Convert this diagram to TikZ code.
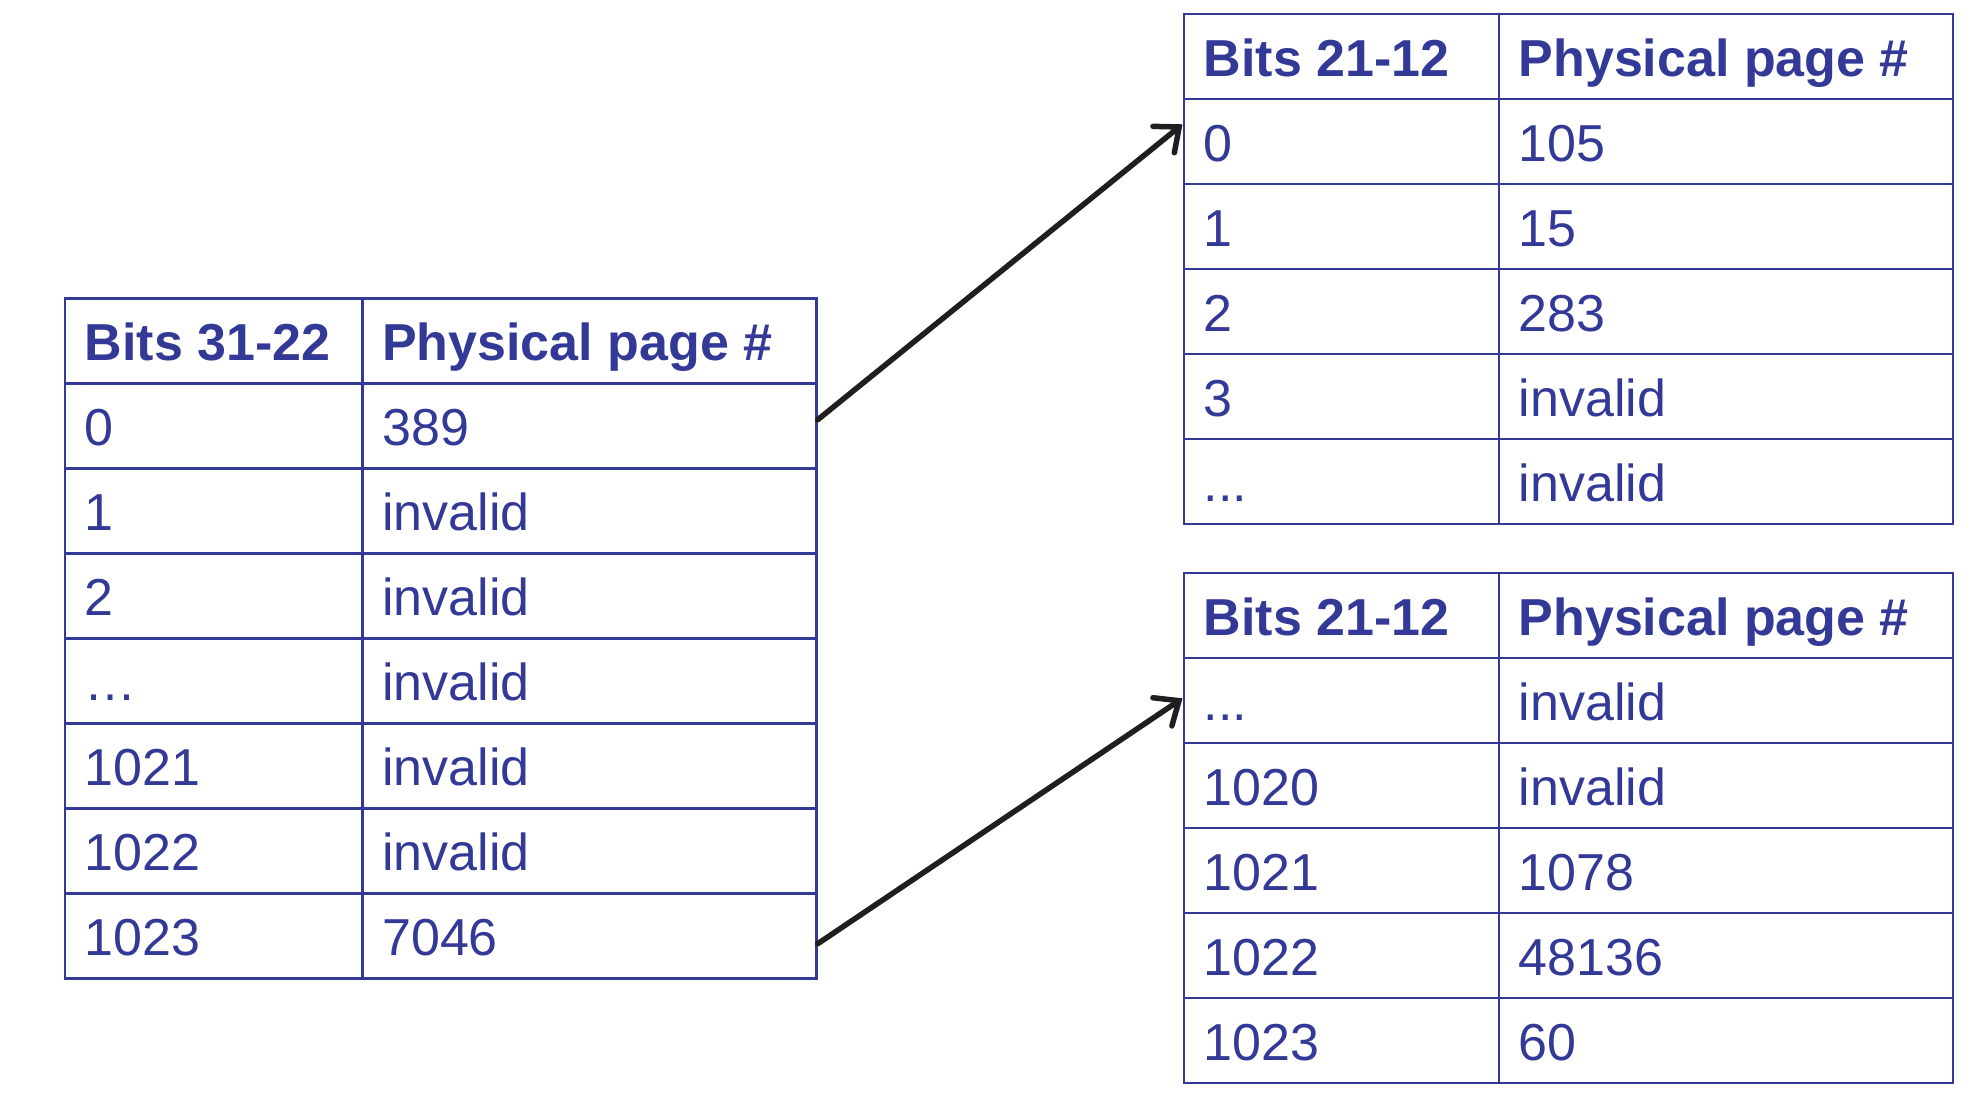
\documentclass[tikz,border=0pt]{standalone}
\usepackage{fontspec}
\setmainfont{Liberation Sans}
\usetikzlibrary{arrows.meta}
\definecolor{tblue}{RGB}{51,57,150}
\newcommand\threedots{...}
\tikzset{
  cell/.style={draw=tblue,line width=2.6pt,minimum height=85pt,inner sep=0pt,anchor=north west},
  celltext/.style={text=tblue,font=\fontsize{52}{60}\selectfont,anchor=base west,inner sep=0pt},
  hdrtext/.style={text=tblue,font=\fontsize{52}{60}\selectfont\bfseries,anchor=base west,inner sep=0pt},
  link/.style={draw=black!88,line width=5.5pt,line cap=round,-{Straight Barb[length=20pt,width=34pt,line cap=round]}}
}
% name, x, y, first column width, header 1, rows
\newcommand\mktable[6]{%
  \node[cell,minimum width=#4pt] (#1-0-1) at (#2,#3) {};
  \node[cell,minimum width=454pt] (#1-0-2) at (#2+#4,#3) {};
  \node[hdrtext] (#1-0-1t) at ([shift={(21pt,24pt)}]#1-0-1.south west) {#5};
  \node[hdrtext] (#1-0-2t) at ([shift={(21pt,24pt)}]#1-0-2.south west) {Physical page \#};
  \foreach \a/\b [count=\i from 1] in {#6} {
    \node[cell,minimum width=#4pt] (#1-\i-1) at (#2,{#3+85*\i}) {};
    \node[cell,minimum width=454pt] (#1-\i-2) at ({#2+#4},{#3+85*\i}) {};
    \node[celltext] (#1-\i-1t) at ([shift={(21pt,24pt)}]#1-\i-1.south west) {\a};
    \node[celltext] (#1-\i-2t) at ([shift={(21pt,24pt)}]#1-\i-2.south west) {\b};
  }%
}
\begin{document}
\begin{tikzpicture}[x=1pt,y=-1pt]
\useasboundingbox (0,0) rectangle (1984,1114);
\mktable{L}{63.5}{297}{297.5}{Bits 31-22}{0/389,1/invalid,2/invalid,…/invalid,1021/invalid,1022/invalid,1023/7046}
\mktable{TR}{1182.5}{12.5}{315}{Bits 21-12}{0/105,1/15,2/283,3/invalid,\threedots/invalid}
\mktable{BR}{1182.5}{571.5}{315}{Bits 21-12}{\threedots/invalid,1020/invalid,1021/1078,1022/48136,1023/60}
\draw[link] ([yshift=6pt]L-1-2.east) -- ([yshift=17pt]TR-1-1.west);
\draw[link] ([yshift=-8pt]L-7-2.east) -- ([yshift=2pt]BR-1-1.west);
\end{tikzpicture}
\end{document}
